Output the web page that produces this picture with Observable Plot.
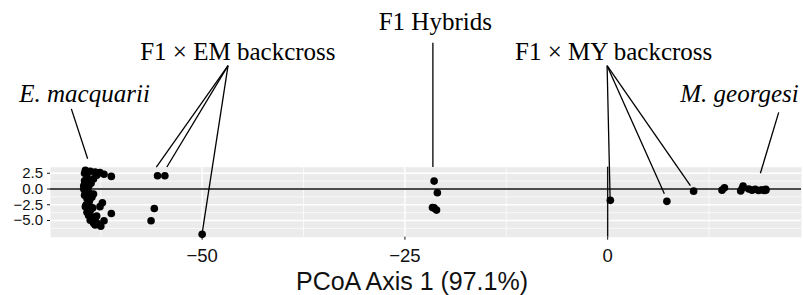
<!DOCTYPE html>
<html>
<head>
<meta charset="utf-8">
<script src="https://cdn.jsdelivr.net/npm/d3@7"></script>
<script src="https://cdn.jsdelivr.net/npm/@observablehq/plot@0.6"></script>
<style>
  body { margin: 0; background: #fff; }
  svg { display: block; }
</style>
</head>
<body>
<div id="chart"></div>
<script>
// ---- data (PCoA axis 1 / axis 2 scores) ----
const emacquariiX = [-64.4, -63.8, -63.2, -62.6, -62.1, -61.2, -64.2, -63.4, -63.0, -64.5, -64.4, -64.0, -64.6, -64.4, -63.9, -63.4, -64.2, -63.6, -64.0, -62.3, -62.6, -64.4, -63.8, -64.2, -61.2, -64.0, -63.2, -63.8, -62.1, -63.4, -62.9, -62.5,
  -64.5, -64.1, -64.6, -63.7, -64.3, -64.5, -63.9, -64.3, -63.5, -64.1, -63.0, -63.6, -63.2];
const emacquariiY = [2.95, 2.8, 2.7, 2.6, 2.35, 2.0, 1.9, 1.6, 2.2, 1.3, 0.8, 0.4, 0.0, -0.5, -0.7, -0.8, -1.5, -1.3, -2.2, -2.2, -2.8, -2.8, -3.4, -3.7, -3.9, -4.2, -4.7, -4.95, -5.05, -5.4, -5.5, -5.9,
  2.5, 1.1, 0.5, 0.9, -0.2, -1.0, -1.9, -2.5, -3.0, -3.2, -4.3, -4.4, -5.7];
const f1emX = [-55.5, -54.6, -55.9, -56.3, -50.0];
const f1emY = [2.1, 2.1, -3.1, -5.05, -7.2];
const f1X = [-21.4, -21.0, -21.4, -21.1, -21.6];
const f1Y = [1.25, -0.6, -3.0, -3.35, -2.95];
const f1myX = [0.33, 7.3, 10.6];
const f1myY = [-1.8, -1.96, -0.34];
const mgeorgesiX = [14.1, 14.4, 16.4, 16.6, 16.7, 17.4, 17.8, 18.2, 18.6, 19.0, 19.3, 19.5, 19.5];
const mgeorgesiY = [-0.18, 0.2, -0.3, 0.1, 0.45, 0.0, -0.18, -0.05, -0.24, -0.12, -0.24, -0.05, -0.2];

const groupNames = ["E. macquarii", "F1 × EM backcross", "F1 Hybrids", "F1 × MY backcross", "M. georgesi"];
const groupXs = [emacquariiX, f1emX, f1X, f1myX, mgeorgesiX];
const groupYs = [emacquariiY, f1emY, f1Y, f1myY, mgeorgesiY];

// annotation labels (data coordinates) and leader segments
const labelText = ["E. macquarii", "F1 × EM backcross", "F1 Hybrids", "F1 × MY backcross", "M. georgesi"];
const labelX = [-64.5, -45.6, -21.25, 0.74, 16.26];
const labelY = [13.87, 20.4, 25.3, 20.4, 13.8];
const labelItalic = [true, false, false, false, true];

const segX1 = [-66.13, -46.81, -46.81, -46.81, -21.55, -0.07, -0.07, -0.07, 21.09];
const segY1 = [12.71, 19.57, 19.57, 19.57, 23.2, 19.57, 19.57, 19.57, 12.17];
const segX2 = [-64.12, -55.65, -54.35, -50.0, -21.55, 0.3, 6.99, 10.2, 18.83];
const segY2 = [4.79, 3.49, 3.49, -7.0, 3.49, -1.5, -0.76, 0.55, 2.5];

const xTicks = [-50, -25, 0];
const yTicks = [-5, -2.5, 0, 2.5];
const xMinor = [-62.5, -37.5, -12.5, 12.5];
const yMinor = [-6.25, -3.75, -1.25, 1.25];
const xTitle = "PCoA Axis 1 (97.1%)";

// ---- build tables ----
const points = [];
groupNames.forEach((g, i) => {
  groupXs[i].forEach((x, j) => points.push({group: g, x, y: groupYs[i][j]}));
});
const segments = segX1.map((x1, i) => ({x1, y1: segY1[i], x2: segX2[i], y2: segY2[i]}));
const labels = labelText.map((t, i) => ({text: t, x: labelX[i], y: labelY[i], italic: labelItalic[i]}));

const chart = Plot.plot({
  width: 803,
  height: 295,
  marginLeft: 50,
  marginRight: 2,
  marginTop: 166.7,
  marginBottom: 58.3,
  style: {fontFamily: "'Liberation Sans', Arial, sans-serif", background: "white", overflow: "visible"},
  x: {domain: [-68.7, 23.9], label: null},
  y: {domain: [-7.65, 3.46], label: null},
  marks: [
    Plot.frame({fill: "#EBEBEB", stroke: null}),
    Plot.ruleX(xMinor, {stroke: "white", strokeWidth: 0.7}),
    Plot.ruleY(yMinor, {stroke: "white", strokeWidth: 0.7}),
    Plot.ruleX(xTicks, {stroke: "white", strokeWidth: 1.4}),
    Plot.ruleY(yTicks, {stroke: "white", strokeWidth: 1.4}),
    Plot.ruleY([0], {stroke: "#111", strokeWidth: 1.4}),
    Plot.ruleX([0], {stroke: "#111", strokeWidth: 1.4}),
    Plot.axisX({ticks: xTicks, tickFormat: d3.format("d"), tickSize: 3, tickPadding: 9, fontSize: 18.5, color: "#111", label: null}),
    Plot.axisY({ticks: yTicks, tickFormat: d3.format(".1f"), tickSize: 3, tickPadding: 4.5, fontSize: 15, color: "#111", label: null}),
    Plot.link(segments, {x1: "x1", y1: "y1", x2: "x2", y2: "y2", stroke: "black", strokeWidth: 1.3}),
    Plot.dot(points, {x: "x", y: "y", r: 3.8, fill: "black"}),
    Plot.text(labels.filter(d => !d.italic), {x: "x", y: "y", text: "text", lineAnchor: "bottom", fontFamily: "'Liberation Serif', 'Times New Roman', serif", fontSize: 25, fill: "black"}),
    Plot.text(labels.filter(d => d.italic), {x: "x", y: "y", text: "text", lineAnchor: "bottom", fontStyle: "italic", fontFamily: "'Liberation Serif', 'Times New Roman', serif", fontSize: 25, fill: "black"}),
    Plot.text([xTitle], {frameAnchor: "bottom", text: d => d, dx: -14, dy: 53, lineAnchor: "bottom", fontSize: 25, fill: "#111"})
  ]
});
document.getElementById("chart").appendChild(chart);
</script>
</body>
</html>
